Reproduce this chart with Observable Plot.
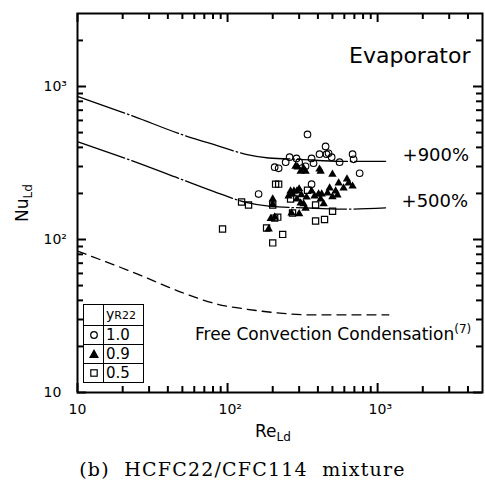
<!DOCTYPE html>
<html><head><meta charset="utf-8">
<script src="https://cdn.jsdelivr.net/npm/d3@7"></script>
<script src="https://cdn.jsdelivr.net/npm/@observablehq/plot@0.6"></script>
<style>
body{margin:0;background:#fff;}
#wrap{position:relative;width:485px;height:488px;font-family:"DejaVu Sans",sans-serif;color:#000;}
#wrap svg text{font-family:"DejaVu Sans",sans-serif;}
.lbl{position:absolute;white-space:nowrap;}
.lbl sub{font-size:12px;vertical-align:-4px;line-height:0;}
.lbl sup{font-size:12px;vertical-align:7px;line-height:0;}
#legend{position:absolute;left:83px;top:304px;border-collapse:collapse;font-family:"DejaVu Sans",sans-serif;background:#fff;}
#legend td{border:1.5px solid #000;height:18px;padding:0;font-size:15px;line-height:18px;}
#legend td.sym{width:19px;text-align:center;}
#legend td.sym svg{display:block;margin:auto;}
#legend td.val{width:37px;padding-left:2px;}
#caption{position:absolute;left:0;width:485px;top:458px;text-align:center;font-family:"DejaVu Serif",serif;font-size:19px;letter-spacing:1.2px;white-space:pre;}
</style></head><body><div id="wrap"></div>
<script>
// Data: [Re_Ld, Nu_Ld]
const seriesY10 = [[341,486],[450,406],[471,366],[494,345],[457,361],[410,361],[363,339],[374,315],[558,320],[681,361],[692,334],[759,271],[288,339],[259,345],[244,320],[206,297],[219,292],[331,301],[161,198],[363,230],[300,320]];
const seriesY09 = [[307,279],[321,292],[410,288],[500,267],[625,248],[641,234],[593,217],[681,223],[550,234],[525,207],[479,217],[464,201],[263,207],[277,207],[290,207],[255,192],[271,198],[300,214],[310,196],[363,207],[380,192],[404,198],[424,198],[417,184],[437,171],[500,190],[540,195],[307,173],[321,171],[331,160],[300,147],[200,184],[200,170],[206,140],[194,137],[188,117],[267,149],[284,301],[293,297],[331,279],[417,279],[336,189],[290,184]];
const seriesY05 = [[92.6,117],[124,176],[138,168],[182,119],[209,230],[219,230],[200,168],[206,138],[216,140],[233,108],[200,95],[271,149],[386,168],[341,210],[386,132],[443,135],[501,153],[263,184]];
const curve900 = [[10,860],[23.7,638],[49.9,484],[85.3,411],[135,359],[188,341],[307,334],[567,324],[1130,324]];
const curve500 = [[10,436],[23.7,324],[49.9,246],[85.3,202],[135,174],[188,165],[386,160],[611,158],[1130,161]];
const curveFree = [[10,84],[23.7,60.8],[49.9,45],[85.3,37.8],[135,35],[204,33.3],[340,32.2],[567,32.2],[1188,32.2]];
const xMajor = [10,100,1000];
const xMinor = [20,30,40,50,60,70,80,90,200,300,400,500,600,700,800,900,2000,3000,4000];
const yMajor = [10,100,1000];
const yMinor = [20,30,40,50,60,70,80,90,200,300,400,500,600,700,800,900,2000];
const legendRows = [["circle","1.0"],["triangle","0.9"],["square","0.5"]];
const fmtPow = d => ({10:"10",100:"10²",1000:"10³"})[d];

const W = 485, H = 445, mT = 13, mB = 53, mL = 77, mR = 3;
const plotW = W - mL - mR, plotH = H - mT - mB;

const chart = Plot.plot({
  width:W, height:H,
  marginTop:mT, marginBottom:mB, marginLeft:mL, marginRight:mR,
  x:{type:"log", domain:[10,5000], axis:null},
  y:{type:"log", domain:[10,3000], axis:null},
  marks:[
    Plot.frame({stroke:"#000", strokeWidth:2}),
    Plot.tickX(xMajor,{x:d=>d, insetTop:plotH-9, stroke:"#000", strokeWidth:2}),
    Plot.tickX(xMinor,{x:d=>d, insetTop:plotH-6, stroke:"#000", strokeWidth:2}),
    Plot.tickX(xMajor,{x:d=>d, insetBottom:plotH-9, stroke:"#000", strokeWidth:2}),
    Plot.tickX(xMinor,{x:d=>d, insetBottom:plotH-6, stroke:"#000", strokeWidth:2}),
    Plot.tickY(yMajor,{y:d=>d, insetRight:plotW-9, stroke:"#000", strokeWidth:2}),
    Plot.tickY(yMinor,{y:d=>d, insetRight:plotW-6, stroke:"#000", strokeWidth:2}),
    Plot.tickY(yMajor,{y:d=>d, insetLeft:plotW-9, stroke:"#000", strokeWidth:2}),
    Plot.tickY(yMinor,{y:d=>d, insetLeft:plotW-6, stroke:"#000", strokeWidth:2}),
    Plot.text(xMajor,{x:d=>d, frameAnchor:"bottom", dy:21, dx:-9, textAnchor:"start", text:fmtPow, fontSize:14, fill:"#000"}),
    Plot.text(yMajor,{y:d=>d, frameAnchor:"left", dx:-34, textAnchor:"start", text:fmtPow, fontSize:14, fill:"#000"}),
    Plot.line(curve900,{x:d=>d[0], y:d=>d[1], curve:"monotone-x", stroke:"#000", strokeWidth:1.3, strokeDasharray:"50,3,1.5,3"}),
    Plot.line(curve500,{x:d=>d[0], y:d=>d[1], curve:"monotone-x", stroke:"#000", strokeWidth:1.3, strokeDasharray:"50,3,1.5,3"}),
    Plot.line(curveFree,{x:d=>d[0], y:d=>d[1], curve:"monotone-x", stroke:"#000", strokeWidth:1.3, strokeDasharray:"9,6"}),
    Plot.text([curve900[curve900.length-1]],{x:d=>d[0], y:d=>d[1], text:()=>"+900%", dx:17, dy:-6, textAnchor:"start", fontSize:18, fill:"#000"}),
    Plot.text([curve500[curve500.length-1]],{x:d=>d[0], y:d=>d[1], text:()=>"+500%", dx:16, dy:-7, textAnchor:"start", fontSize:18, fill:"#000"}),
    Plot.text(["Evaporator"],{frameAnchor:"top-right", dx:-12, dy:34, textAnchor:"end", fontSize:22, fill:"#000"}),
    Plot.dot(seriesY05,{x:d=>d[0], y:d=>d[1], symbol:"square", r:3.5, stroke:"#000", strokeWidth:1.2, fill:"none"}),
    Plot.dot(seriesY09,{x:d=>d[0], y:d=>d[1], symbol:"triangle", r:3.1, fill:"#000", stroke:"none"}),
    Plot.dot(seriesY10,{x:d=>d[0], y:d=>d[1], symbol:"circle", r:3.3, stroke:"#000", strokeWidth:1.1, fill:"none"})
  ]
});
const wrap = document.getElementById("wrap");
wrap.appendChild(chart);

function symSvg(kind){
  let s = '<svg width="12" height="12" viewBox="-6 -6 12 12">';
  if (kind==="circle") s += '<circle r="3.3" fill="none" stroke="#000" stroke-width="1.2"/>';
  if (kind==="triangle") s += '<path d="M0,-5L5,4L-5,4Z" fill="#000"/>';
  if (kind==="square") s += '<rect x="-3.2" y="-3.2" width="6.4" height="6.4" fill="none" stroke="#000" stroke-width="1.2"/>';
  return s + '</svg>';
}
let html = '<table id="legend"><tr><td class="sym"></td><td class="val" style="font-size:14px">y<span style="font-size:11px">R22</span></td></tr>';
for (const [k,v] of legendRows) html += `<tr><td class="sym">${symSvg(k)}</td><td class="val">${v}</td></tr>`;
html += '</table>';
wrap.insertAdjacentHTML("beforeend", html);
wrap.insertAdjacentHTML("beforeend",
  '<div class="lbl" style="left:195px;top:324px;font-size:17px;line-height:20px">Free Convection Condensation<sup>(7)</sup></div>' +
  '<div class="lbl" style="left:-10px;top:192px;width:64px;height:22px;line-height:22px;text-align:center;font-size:17px;transform:rotate(-90deg)">Nu<sub>Ld</sub></div>' +
  '<div class="lbl" style="left:255px;top:421px;font-size:17px;line-height:20px">Re<sub>Ld</sub></div>' +
  '<div id="caption">(b)  HCFC22/CFC114  mixture</div>');
</script>
</body></html>
